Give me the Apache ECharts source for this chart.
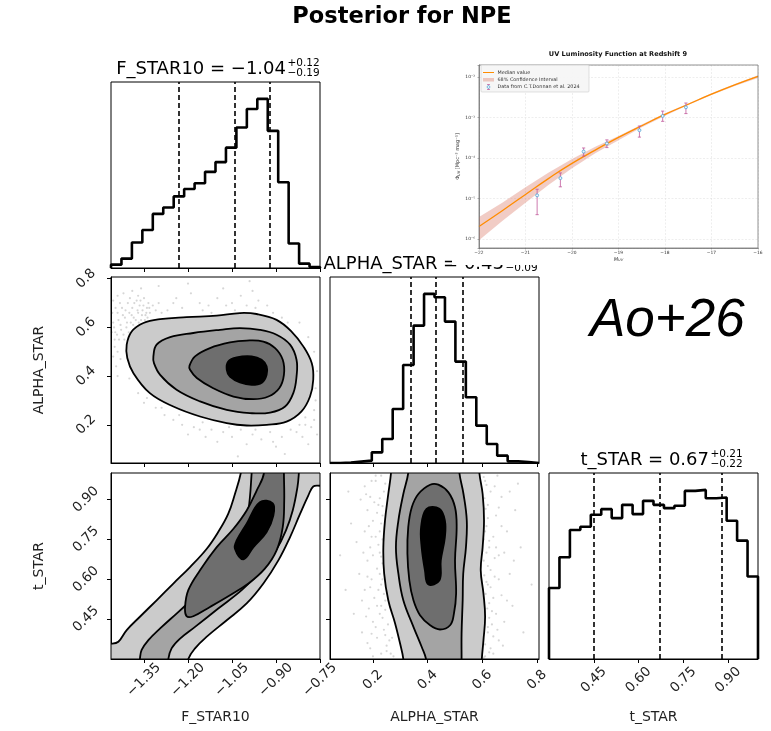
<!DOCTYPE html>
<html>
<head>
<meta charset="utf-8">
<title>Posterior for NPE</title>
<script src="https://cdn.jsdelivr.net/npm/echarts@6/dist/echarts.min.js"></script>
<style>
html, body { margin: 0; padding: 0; background: #fff; }
#main { width: 771px; height: 731px; }
</style>
</head>
<body>
<div id="main"></div>
<script>
// ---- corner plot data ----
var paramNames = ['F_STAR10', 'ALPHA_STAR', 't_STAR'];
var rangeF = [-1.4625, -0.75];
var rangeA = [0.043, 0.807];
var rangeT = [0.30, 1.00];
var ticksF = [-1.35, -1.20, -1.05, -0.90, -0.75];
var ticksA = [0.2, 0.4, 0.6, 0.8];
var ticksT = [0.45, 0.60, 0.75, 0.90];

// 1D histograms, 20 bins over each range
var histF = [10, 28, 76, 113, 161, 180, 213, 235, 252, 286, 315, 358, 418, 473, 503, 408, 255, 73, 13, 3];
var histA = [0, 1, 4, 7, 32, 72, 162, 294, 412, 507, 497, 424, 304, 197, 112, 57, 22, 5, 3, 0];
var histT = [214, 307, 389, 399, 435, 452, 425, 465, 437, 477, 465, 455, 462, 507, 510, 485, 487, 417, 357, 249];

// 16 / 50 / 84 percentiles
var quantF = [-1.23, -1.04, -0.92];
var quantA = [0.34, 0.43, 0.53];
var quantT = [0.45, 0.67, 0.88];

// contour levels (outer -> inner), F_STAR10 vs ALPHA_STAR
var contourFA = [
  [[-1.409,0.529],[-1.392,0.583],[-1.352,0.618],[-1.295,0.634],[-1.205,0.642],[-1.102,0.648],[-1.023,0.659],[-0.966,0.655],[-0.898,0.631],[-0.847,0.583],[-0.807,0.522],[-0.778,0.453],[-0.773,0.385],[-0.784,0.316],[-0.813,0.255],[-0.864,0.213],[-0.932,0.200],[-1.000,0.197],[-1.068,0.207],[-1.159,0.234],[-1.250,0.275],[-1.330,0.330],[-1.386,0.412],[-1.407,0.474]],
  [[-1.318,0.481],[-1.307,0.529],[-1.261,0.560],[-1.182,0.577],[-1.091,0.590],[-1.023,0.597],[-0.955,0.590],[-0.898,0.570],[-0.852,0.529],[-0.830,0.467],[-0.830,0.398],[-0.841,0.330],[-0.869,0.275],[-0.920,0.250],[-0.989,0.248],[-1.068,0.261],[-1.159,0.296],[-1.239,0.344],[-1.295,0.405],[-1.316,0.453]],
  [[-1.195,0.442],[-1.176,0.481],[-1.125,0.515],[-1.057,0.538],[-1.000,0.546],[-0.943,0.542],[-0.903,0.515],[-0.877,0.467],[-0.873,0.405],[-0.889,0.350],[-0.926,0.316],[-0.977,0.305],[-1.045,0.316],[-1.114,0.350],[-1.170,0.392],[-1.193,0.426]],
  [[-1.068,0.426],[-1.063,0.460],[-1.034,0.477],[-0.983,0.481],[-0.949,0.467],[-0.932,0.440],[-0.932,0.405],[-0.947,0.374],[-0.983,0.364],[-1.023,0.374],[-1.057,0.398]]
];

// F_STAR10 vs t_STAR
var contourFT = [
  [[-1.60,0.355],[-1.46,0.358],[-1.4375,0.365],[-1.409,0.409],[-1.364,0.459],[-1.307,0.521],[-1.250,0.584],[-1.193,0.646],[-1.136,0.715],[-1.097,0.778],[-1.063,0.846],[-1.040,0.921],[-1.020,1.0],[-1.01,1.08],[-0.60,1.08],[-0.60,0.952],[-0.75,0.952],[-0.773,0.949],[-0.790,0.915],[-0.818,0.846],[-0.852,0.759],[-0.892,0.671],[-0.943,0.584],[-1.000,0.509],[-1.068,0.446],[-1.136,0.384],[-1.176,0.340],[-1.199,0.30],[-1.215,0.22],[-1.60,0.22]],
  [[-1.372,0.22],[-1.364,0.30],[-1.358,0.334],[-1.335,0.371],[-1.295,0.415],[-1.239,0.471],[-1.182,0.528],[-1.125,0.584],[-1.080,0.646],[-1.040,0.709],[-1.011,0.778],[-0.994,0.859],[-0.983,1.0],[-0.980,1.08],[-0.818,1.08],[-0.822,1.0],[-0.827,0.946],[-0.843,0.859],[-0.866,0.784],[-0.900,0.709],[-0.949,0.634],[-1.017,0.559],[-1.097,0.490],[-1.176,0.421],[-1.227,0.377],[-1.256,0.340],[-1.267,0.30],[-1.272,0.22]],
  [[-0.945,1.08],[-0.941,1.0],[-0.966,0.934],[-1.000,0.859],[-1.045,0.790],[-1.102,0.721],[-1.159,0.634],[-1.199,0.559],[-1.210,0.496],[-1.205,0.461],[-1.182,0.461],[-1.125,0.496],[-1.057,0.540],[-0.994,0.584],[-0.938,0.640],[-0.898,0.709],[-0.877,0.796],[-0.872,0.896],[-0.873,1.0],[-0.873,1.08]],
  [[-0.955,0.890],[-0.911,0.886],[-0.909,0.840],[-0.932,0.778],[-0.977,0.721],[-1.011,0.675],[-1.040,0.715],[-1.034,0.746],[-1.000,0.809]]
];

// ALPHA_STAR vs t_STAR
var contourAT = [
  [[0.27,1.08],[0.266,1.0],[0.256,0.921],[0.244,0.821],[0.238,0.721],[0.241,0.621],[0.256,0.521],[0.281,0.434],[0.299,0.359],[0.311,0.30],[0.315,0.22],[0.595,0.22],[0.598,0.30],[0.604,0.371],[0.610,0.459],[0.604,0.546],[0.594,0.634],[0.601,0.721],[0.606,0.821],[0.601,0.921],[0.589,1.0],[0.585,1.08]],
  [[0.333,1.08],[0.329,1.0],[0.311,0.921],[0.293,0.821],[0.284,0.721],[0.293,0.621],[0.311,0.521],[0.348,0.421],[0.378,0.346],[0.394,0.30],[0.40,0.22],[0.524,0.22],[0.524,0.30],[0.524,0.396],[0.528,0.521],[0.530,0.621],[0.540,0.721],[0.543,0.821],[0.531,0.921],[0.516,1.0],[0.512,1.08]],
  [[0.409,0.956],[0.439,0.956],[0.476,0.927],[0.500,0.871],[0.506,0.796],[0.500,0.671],[0.504,0.546],[0.496,0.471],[0.482,0.427],[0.445,0.411],[0.409,0.427],[0.372,0.465],[0.348,0.521],[0.333,0.596],[0.326,0.696],[0.329,0.796],[0.342,0.871],[0.366,0.921]],
  [[0.396,0.865],[0.443,0.865],[0.463,0.821],[0.463,0.759],[0.448,0.671],[0.443,0.596],[0.402,0.581],[0.390,0.634],[0.378,0.721],[0.376,0.796]]
];

// samples visible outside the outer contour
var scatterFA = [
  [-1.455,0.62],[-1.448,0.58],[-1.44,0.66],[-1.435,0.55],[-1.43,0.61],[-1.425,0.68],[-1.42,0.57],[-1.415,0.64],[-1.41,0.60],[-1.405,0.70],
  [-1.40,0.66],[-1.395,0.62],[-1.39,0.68],[-1.385,0.64],[-1.38,0.60],[-1.375,0.71],[-1.37,0.66],[-1.365,0.69],[-1.36,0.63],[-1.355,0.67],
  [-1.35,0.72],[-1.345,0.65],[-1.34,0.68],[-1.335,0.70],[-1.45,0.52],[-1.44,0.50],[-1.43,0.47],[-1.445,0.44],[-1.42,0.74],[-1.39,0.75],
  [-1.36,0.76],[-1.33,0.66],[-1.30,0.70],[-1.27,0.67],[-1.24,0.72],[-1.22,0.68],[-1.19,0.74],[-1.16,0.70],[-1.13,0.69],[-1.10,0.72],
  [-1.08,0.76],[-1.05,0.70],[-1.02,0.73],[-1.00,0.69],[-0.98,0.75],[-0.96,0.71],[-0.99,0.79],[-1.20,0.78],[-1.30,0.77],[-1.12,0.66],
  [-1.04,0.67],[-1.37,0.33],[-1.35,0.29],[-1.31,0.27],[-1.28,0.24],[-1.25,0.22],[-1.22,0.20],[-1.18,0.19],[-1.15,0.21],[-1.12,0.18],
  [-1.08,0.17],[-1.05,0.15],[-1.02,0.18],[-0.98,0.16],[-0.95,0.14],[-0.92,0.17],[-0.88,0.15],[-0.85,0.18],[-0.82,0.20],[-0.80,0.23],
  [-0.78,0.19],[-0.77,0.26],[-0.76,0.16],[-0.79,0.12],[-0.90,0.11],[-1.00,0.12],[-1.10,0.13],[-1.20,0.16],[-0.87,0.08],[-1.03,0.07],
  [-0.95,0.21],[-0.84,0.24],[-0.765,0.35],[-0.76,0.42],[-0.77,0.50],[-0.79,0.56],[-0.82,0.62],
  [-1.458,0.66],[-1.452,0.60],[-1.447,0.68],[-1.442,0.57],[-1.437,0.63],[-1.432,0.70],[-1.428,0.59],[-1.422,0.65],[-1.417,0.55],[-1.413,0.67],
  [-1.408,0.62],[-1.402,0.58],[-1.398,0.72],[-1.392,0.65],[-1.387,0.61],[-1.383,0.70],[-1.378,0.63],[-1.372,0.67],[-1.368,0.62],[-1.362,0.71],
  [-1.357,0.65],[-1.352,0.69],[-1.347,0.63],[-1.342,0.66],[-1.338,0.64],[-1.332,0.68],[-1.455,0.48],[-1.45,0.55],[-1.46,0.58],[-1.455,0.71],
  [-1.44,0.73],[-1.37,0.73],[-1.32,0.69],[-1.31,0.67],[-1.29,0.66],[-1.25,0.70],[-1.15,0.67],[-1.07,0.69],[-0.97,0.68],[-0.93,0.69],
  [-0.91,0.66],[-0.88,0.64],[-0.86,0.62],[-1.34,0.31],[-1.29,0.27],[-1.23,0.24],[-1.16,0.18],[-1.06,0.19],[-0.97,0.18],[-0.83,0.17],
  [-0.80,0.20],[-0.81,0.15],[-0.77,0.22],[-0.765,0.30],[-0.91,0.13],[-1.14,0.15],[-1.40,0.39],[-1.44,0.40]
];
var scatterAT = [
  [0.17,0.95],[0.19,0.91],[0.21,0.97],[0.18,0.86],[0.22,0.88],[0.20,0.82],[0.235,0.84],[0.17,0.78],[0.21,0.76],[0.19,0.72],
  [0.225,0.70],[0.18,0.67],[0.215,0.64],[0.195,0.60],[0.23,0.58],[0.17,0.56],[0.205,0.53],[0.185,0.49],[0.225,0.47],[0.20,0.44],
  [0.24,0.41],[0.215,0.38],[0.25,0.35],[0.23,0.32],[0.19,0.34],[0.16,0.40],[0.15,0.62],[0.14,0.74],[0.155,0.90],[0.245,0.96],
  [0.235,0.66],[0.175,0.46],[0.21,0.99],[0.12,0.81],[0.10,0.56],[0.13,0.47],[0.11,0.93],[0.08,0.69],[0.245,0.52],[0.20,0.31],
  [0.265,0.32],[0.27,0.38],[0.61,0.97],[0.63,0.93],[0.62,0.88],[0.65,0.84],[0.615,0.80],[0.64,0.76],[0.625,0.72],[0.66,0.69],
  [0.62,0.65],[0.645,0.61],[0.63,0.57],[0.67,0.54],[0.625,0.51],[0.65,0.47],[0.635,0.43],[0.62,0.40],[0.66,0.37],[0.63,0.34],
  [0.61,0.31],[0.68,0.44],[0.69,0.78],[0.70,0.62],[0.67,0.91],[0.72,0.86],[0.74,0.72],[0.71,0.50],[0.75,0.40],[0.73,0.96],
  [0.78,0.58],[0.655,0.99],[0.60,0.42],[0.615,0.59],[0.64,0.32],[0.68,0.70],[0.605,0.75],
  [0.23,0.99],[0.24,0.93],[0.225,0.905],[0.235,0.875],[0.215,0.85],[0.23,0.81],[0.225,0.78],[0.235,0.75],[0.22,0.73],[0.23,0.685],
  [0.225,0.62],[0.235,0.60],[0.22,0.56],[0.24,0.545],[0.23,0.50],[0.245,0.485],[0.235,0.455],[0.255,0.43],[0.245,0.39],[0.26,0.37],
  [0.25,0.33],[0.275,0.31],[0.195,0.97],[0.185,0.80],[0.20,0.69],[0.19,0.57],[0.21,0.42],[0.18,0.36],[0.165,0.70],[0.16,0.52],
  [0.205,0.89],[0.175,0.92],[0.195,0.76],[0.18,0.61],[0.215,0.50],[0.195,0.395],
  [0.605,0.985],[0.615,0.955],[0.608,0.905],[0.612,0.865],[0.62,0.83],[0.61,0.78],[0.625,0.745],[0.615,0.70],[0.605,0.67],[0.63,0.635],
  [0.607,0.615],[0.62,0.58],[0.612,0.545],[0.618,0.49],[0.625,0.455],[0.62,0.42],[0.64,0.385],[0.61,0.355],[0.625,0.325],[0.605,0.305],
  [0.645,0.95],[0.65,0.72],[0.66,0.60],[0.655,0.41],[0.67,0.80],[0.64,0.53],[0.675,0.35],[0.66,0.87],[0.645,0.68],[0.635,0.48],
  [0.69,0.52],[0.70,0.93],[0.715,0.67]
];

// ---- inset: UV luminosity function at z = 9 ----
var uvM = [-22, -21.5, -21, -20.5, -20, -19.5, -19, -18.5, -18, -17.5, -17, -16.5, -16];
var phiMedian = [2.04e-6, 5.0e-6, 1.26e-5, 3.16e-5, 7.41e-5, 1.58e-4, 3.24e-4, 6.31e-4, 1.20e-3, 2.14e-3, 3.80e-3, 6.46e-3, 1.05e-2];
var phiUpper = [3.5e-6, 7.9e-6, 1.9e-5, 4.4e-5, 9.5e-5, 1.9e-4, 3.5e-4, 6.8e-4, 1.29e-3, 2.24e-3, 3.98e-3, 6.76e-3, 1.12e-2];
var phiLower = [9.3e-7, 2.8e-6, 7.9e-6, 2.2e-5, 5.6e-5, 1.32e-4, 2.75e-4, 5.75e-4, 1.12e-3, 2.04e-3, 3.63e-3, 6.03e-3, 9.5e-3];
var donnanM = [-20.75, -20.25, -19.75, -19.25, -18.55, -18.05, -17.55];
var donnanPhi = [1.2e-5, 3.2e-5, 1.45e-4, 2.3e-4, 4.9e-4, 1.1e-3, 1.8e-3];
var donnanLo = [4.0e-6, 1.95e-5, 1.12e-4, 1.82e-4, 3.3e-4, 8.1e-4, 1.26e-3];
var donnanHi = [1.7e-5, 4.3e-5, 1.78e-4, 2.82e-4, 6.2e-4, 1.45e-3, 2.3e-3];

var FONT = 'DejaVu Sans';
var levelFills = ['#cbcbcb', '#a4a4a4', '#6e6e6e', '#000000'];
var MINUS = '\u2212';

var fmtF = function (v) { return v.toFixed(2).replace('-', MINUS); };
var fmtA = function (v) { return v.toFixed(1); };
var fmtT = function (v) { return v.toFixed(2); };

var supMap = { '-': '\u207b', '0': '\u2070', '1': '\u00b9', '2': '\u00b2', '3': '\u00b3', '4': '\u2074', '5': '\u2075', '6': '\u2076', '7': '\u2077', '8': '\u2078', '9': '\u2079' };
function toSup(s) { return String(s).split('').map(function (c) { return supMap[c] || c; }).join(''); }

// panels: [left, top]
var W = 209, H = 186;
var grids = [
  { left: 111, top: 82 },   // 0 hist F
  { left: 111, top: 277 },  // 1 F vs A
  { left: 330, top: 277 },  // 2 hist A
  { left: 111, top: 473 },  // 3 F vs T
  { left: 330, top: 473 },  // 4 A vs T
  { left: 549, top: 473 }   // 5 hist T
].map(function (g) {
  return { left: g.left, top: g.top, width: W, height: H, show: true, z: 5,
    backgroundColor: 'rgba(0,0,0,0)', borderColor: '#000', borderWidth: 1 };
});
grids.push({ left: 479, top: 65, width: 279, height: 183, show: true, z: 5,
  backgroundColor: 'rgba(0,0,0,0)', borderColor: '#777', borderWidth: 0.8 });

function mainAxis(gi, range, ticks, fmt, showLabels, name, isY) {
  return {
    gridIndex: gi, type: 'value', min: range[0], max: range[1],
    name: name || '', nameLocation: 'middle', nameGap: isY ? 65 : 51,
    nameTextStyle: { fontFamily: FONT, fontSize: 14, color: '#222' },
    axisLine: { show: true, onZero: false, lineStyle: { color: '#000', width: 1 } },
    axisTick: { show: true, length: 4, customValues: ticks, lineStyle: { color: '#000', width: 1 } },
    axisLabel: { show: showLabels, customValues: ticks, formatter: fmt, rotate: 45,
      align: 'center', verticalAlign: 'middle', margin: isY ? 25 : 21,
      fontFamily: FONT, fontSize: 13.5, color: '#222' },
    splitLine: { show: false }
  };
}
function histYAxis(gi) {
  return { gridIndex: gi, type: 'value', min: 0, max: function (v) { return v.max * 1.1; }, show: false };
}

var xAxes = [
  mainAxis(0, rangeF, ticksF, fmtF, false),
  mainAxis(1, rangeF, ticksF, fmtF, false),
  mainAxis(2, rangeA, ticksA, fmtA, false),
  mainAxis(3, rangeF, ticksF, fmtF, true, paramNames[0]),
  mainAxis(4, rangeA, ticksA, fmtA, true, paramNames[1]),
  mainAxis(5, rangeT, ticksT, fmtT, true, paramNames[2]),
  {
    gridIndex: 6, type: 'value', min: -22, max: -16, interval: 1,
    name: '{i|M}{s|UV}', nameLocation: 'middle', nameGap: 8,
    nameTextStyle: { rich: { i: { fontFamily: FONT, fontStyle: 'italic', fontSize: 5, color: '#333' },
      s: { fontFamily: FONT, fontStyle: 'italic', fontSize: 3.6, color: '#333', padding: [2.5, 0, 0, 0] } } },
    axisLine: { show: true, onZero: false, lineStyle: { color: '#666', width: 0.7 } },
    axisTick: { show: true, length: 1.5, lineStyle: { color: '#666', width: 0.5 } },
    axisLabel: { fontFamily: FONT, fontSize: 4.4, color: '#333', margin: 2.5,
      formatter: function (v) { return String(v).replace('-', MINUS); } },
    splitLine: { show: true, lineStyle: { color: '#dddddd', width: 0.5, type: [2, 1.5] } }
  }
];
var yAxes = [
  histYAxis(0),
  mainAxis(1, rangeA, ticksA, fmtA, true, paramNames[1], true),
  histYAxis(2),
  mainAxis(3, rangeT, ticksT, fmtT, true, paramNames[2], true),
  mainAxis(4, rangeT, ticksT, fmtT, false, '', true),
  histYAxis(5),
  {
    gridIndex: 6, type: 'log', logBase: 10, min: 6e-7, max: 0.02,
    name: '{n|\u03a6}{s|UV}{n| [Mpc\u207b\u00b3 mag\u207b\u00b9]}', nameLocation: 'middle', nameGap: 17,
    nameTextStyle: { rich: { n: { fontFamily: FONT, fontSize: 5, color: '#333' },
      s: { fontFamily: FONT, fontSize: 3.6, color: '#333', padding: [2.5, 0, 0, 0] } } },
    axisLine: { show: true, onZero: false, lineStyle: { color: '#666', width: 0.7 } },
    axisTick: { show: true, length: 1.5, lineStyle: { color: '#666', width: 0.5 } },
    minorTick: { show: false },
    axisLabel: { fontFamily: FONT, fontSize: 4.4, color: '#333', margin: 4,
      formatter: function (v) {
        var e = Math.log10(v);
        if (Math.abs(e - Math.round(e)) > 1e-6) { return ''; }
        return '10' + toSup(Math.round(e));
      } },
    splitLine: { show: true, lineStyle: { color: '#dddddd', width: 0.5, type: [2, 1.5] } }
  }
];

function histSeries(counts, range, quant, ai) {
  var w = (range[1] - range[0]) / counts.length;
  var pts = [[range[0], 0]];
  counts.forEach(function (c, i) { pts.push([range[0] + i * w, c]); });
  pts.push([range[1], counts[counts.length - 1]]);
  pts.push([range[1], 0]);
  return {
    type: 'line', xAxisIndex: ai, yAxisIndex: ai, step: 'end', symbol: 'none', silent: true,
    lineStyle: { color: '#000', width: 2.6 }, data: pts,
    markLine: { silent: true, symbol: ['none', 'none'], label: { show: false },
      lineStyle: { color: '#000', width: 1.6, type: [5, 3] },
      data: quant.map(function (q) { return { xAxis: q }; }) }
  };
}
function contourSeries(polys, ai) {
  return {
    type: 'custom', xAxisIndex: ai, yAxisIndex: ai, clip: true, z: 3, silent: true,
    data: polys.map(function (p, i) { return [p[0][0], p[0][1], i]; }),
    renderItem: function (params, api) {
      var poly = polys[params.dataIndex];
      return {
        type: 'polygon',
        shape: { points: poly.map(function (p) { return api.coord(p); }), smooth: 0.4 },
        style: { fill: levelFills[params.dataIndex], stroke: '#000', lineWidth: 1.8 }
      };
    }
  };
}
function scatterSeries(pts, ai) {
  return { type: 'scatter', xAxisIndex: ai, yAxisIndex: ai, data: pts, symbolSize: 2.2, silent: true,
    itemStyle: { color: 'rgba(0,0,0,0.2)' } };
}

var series = [
  histSeries(histF, rangeF, quantF, 0),
  scatterSeries(scatterFA, 1),
  contourSeries(contourFA, 1),
  histSeries(histA, rangeA, quantA, 2),
  contourSeries(contourFT, 3),
  scatterSeries(scatterAT, 4),
  contourSeries(contourAT, 4),
  histSeries(histT, rangeT, quantT, 5),
  // inset
  {
    type: 'custom', xAxisIndex: 6, yAxisIndex: 6, silent: true, z: 2,
    data: [[uvM[0], phiLower[0]]],
    renderItem: function (params, api) {
      var pts = [];
      uvM.forEach(function (m, i) { pts.push(api.coord([m, phiUpper[i]])); });
      for (var i = uvM.length - 1; i >= 0; i--) { pts.push(api.coord([uvM[i], phiLower[i]])); }
      return { type: 'polygon', shape: { points: pts }, style: { fill: 'rgba(215,110,90,0.35)' } };
    }
  },
  {
    type: 'line', xAxisIndex: 6, yAxisIndex: 6, silent: true, z: 3, smooth: true, symbol: 'none',
    data: uvM.map(function (m, i) { return [m, phiMedian[i]]; }),
    lineStyle: { color: '#ff8c00', width: 1.3 }
  },
  {
    type: 'custom', xAxisIndex: 6, yAxisIndex: 6, silent: true, z: 4,
    encode: { x: 0, y: 1 },
    data: donnanM.map(function (m, i) { return [m, donnanPhi[i], donnanLo[i], donnanHi[i]]; }),
    renderItem: function (params, api) {
      var m = api.value(0);
      var c = api.coord([m, api.value(1)]);
      var lo = api.coord([m, api.value(2)]);
      var hi = api.coord([m, api.value(3)]);
      var eb = { stroke: '#c0589a', lineWidth: 0.8 };
      return { type: 'group', children: [
        { type: 'line', shape: { x1: lo[0], y1: lo[1], x2: hi[0], y2: hi[1] }, style: eb },
        { type: 'line', shape: { x1: lo[0] - 1.6, y1: lo[1], x2: lo[0] + 1.6, y2: lo[1] }, style: eb },
        { type: 'line', shape: { x1: hi[0] - 1.6, y1: hi[1], x2: hi[0] + 1.6, y2: hi[1] }, style: eb },
        { type: 'circle', shape: { cx: c[0], cy: c[1], r: 1.5 }, style: { fill: '#eef6fb', stroke: '#4fa3d6', lineWidth: 0.8 } }
      ] };
    }
  }
];

// titles above diagonal panels
function titleParts(name, q, fmt, xRight, yMid) {
  var st = { fontFamily: FONT, fill: '#000', verticalAlign: 'middle' };
  function s(extra) { return Object.assign({}, st, extra); }
  return [
    { type: 'text', x: xRight, y: yMid, z: -2, silent: true,
      style: s({ text: name + ' = ' + fmt(q[1]), fontSize: 18, align: 'right' }) },
    { type: 'text', x: xRight + 1.5, y: yMid - 6, z: -2, silent: true,
      style: s({ text: '+' + (q[2] - q[1]).toFixed(2), fontSize: 10.5, align: 'left' }) },
    { type: 'text', x: xRight + 1.5, y: yMid + 4.5, z: -2, silent: true,
      style: s({ text: MINUS + (q[1] - q[0]).toFixed(2), fontSize: 10.5, align: 'left' }) }
  ];
}

var small = { fontFamily: FONT, fontSize: 4.9, fill: '#333', verticalAlign: 'middle', align: 'left' };
var graphics = [
  { type: 'text', x: 402, y: 17, silent: true,
    style: { text: 'Posterior for NPE', fontFamily: FONT, fontWeight: 'bold', fontSize: 22.5, fill: '#000', align: 'center', verticalAlign: 'middle' } }
]
  .concat(titleParts(paramNames[0], quantF, fmtF, 286, 69))
  .concat(titleParts(paramNames[1], quantA, fmtT, 504, 264))
  .concat(titleParts(paramNames[2], quantT, fmtT, 709, 460))
  .concat([
    // inset figure background
    { type: 'rect', z: -1, silent: true, shape: { x: 452, y: 36, width: 319, height: 229 }, style: { fill: '#fff' } },
    { type: 'text', x: 618, y: 54, z: 10, silent: true,
      style: { text: 'UV Luminosity Function at Redshift 9', fontFamily: FONT, fontWeight: 'bold', fontSize: 6.6, fill: '#111', align: 'center', verticalAlign: 'middle' } },
    // legend
    { type: 'rect', z: 10, silent: true, shape: { x: 481, y: 65, width: 108, height: 27, r: 1 },
      style: { fill: 'rgba(245,245,245,0.9)', stroke: '#cfcfcf', lineWidth: 0.6 } },
    { type: 'line', z: 10, silent: true, shape: { x1: 483, y1: 72.5, x2: 494, y2: 72.5 }, style: { stroke: '#ff8c00', lineWidth: 1 } },
    { type: 'text', z: 10, silent: true, x: 497.5, y: 72.5, style: Object.assign({ text: 'Median value' }, small) },
    { type: 'rect', z: 10, silent: true, shape: { x: 483, y: 78, width: 11, height: 3.5 }, style: { fill: 'rgba(215,110,90,0.35)' } },
    { type: 'text', z: 10, silent: true, x: 497.5, y: 79.7, style: Object.assign({ text: '68% Confidence Interval' }, small) },
    { type: 'line', z: 10, silent: true, shape: { x1: 488.5, y1: 84.5, x2: 488.5, y2: 89.5 }, style: { stroke: '#c0589a', lineWidth: 0.7 } },
    { type: 'line', z: 10, silent: true, shape: { x1: 487, y1: 84.5, x2: 490, y2: 84.5 }, style: { stroke: '#c0589a', lineWidth: 0.7 } },
    { type: 'line', z: 10, silent: true, shape: { x1: 487, y1: 89.5, x2: 490, y2: 89.5 }, style: { stroke: '#c0589a', lineWidth: 0.7 } },
    { type: 'circle', z: 10, silent: true, shape: { cx: 488.5, cy: 87, r: 1.4 }, style: { fill: '#eef6fb', stroke: '#4fa3d6', lineWidth: 0.7 } },
    { type: 'text', z: 10, silent: true, x: 497.5, y: 87, style: Object.assign({ text: 'Data from C.T.Donnan et al. 2024' }, small) },
    // annotation
    { type: 'text', x: 590, y: 321, silent: true,
      style: { text: 'Ao+26', fontFamily: 'Liberation Sans', fontStyle: 'italic', fontSize: 53, fill: '#000', align: 'left', verticalAlign: 'middle' } }
  ]);

var myChart = echarts.init(document.getElementById('main'));
var option = {
  animation: false,
  backgroundColor: '#fff',
  grid: grids,
  xAxis: xAxes,
  yAxis: yAxes,
  series: series,
  graphic: { elements: graphics }
};
myChart.setOption(option);
</script>
</body>
</html>
